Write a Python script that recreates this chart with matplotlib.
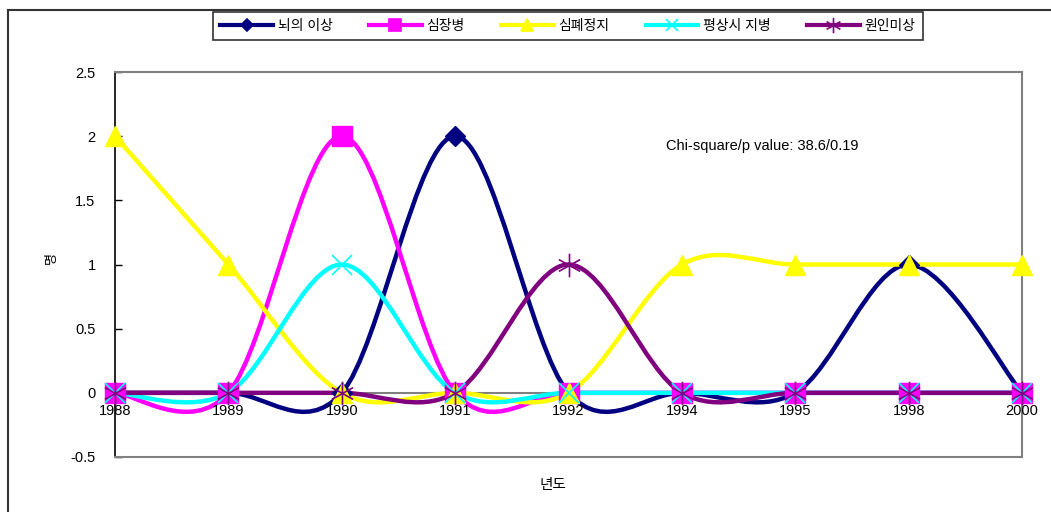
import matplotlib
matplotlib.use('Agg')
import matplotlib.pyplot as plt
import numpy as np
from matplotlib.path import Path
from matplotlib.patches import PathPatch
from matplotlib.lines import Line2D

plt.rcParams['font.family'] = ['Liberation Sans', 'Noto Sans CJK KR', 'DejaVu Sans']

years = ['1988', '1989', '1990', '1991', '1992', '1994', '1995', '1998', '2000']
names = ['뇌의 이상', '심장병', '심폐정지', '평상시 지병', '원인미상']
brain = [0, 0, 0, 2, 0, 0, 0, 1, 0]
heart = [0, 0, 2, 0, 0, 0, 0, 0, 0]
arrest = [2, 1, 0, 0, 0, 1, 1, 1, 1]
chronic = [0, 0, 1, 0, 0, 0, 0, 0, 0]
unknown = [0, 0, 0, 0, 1, 0, 0, 0, 0]
series = [brain, heart, arrest, chronic, unknown]

colors = ['#000080', '#FF00FF', '#FFFF00', '#00FFFF', '#800080']
star = Path([(0, -1), (0, 1), (-0.9, -0.5), (0.9, 0.5), (-0.9, 0.5), (0.9, -0.5)],
            [Path.MOVETO, Path.LINETO] * 3)
markers = ['D', 's', '^', 'x', star]
msizes = [10, 14, 14, 14, 17]


def smooth_path(x, y, k=1.0 / 6):
    # cubic bezier through every point, tangents from neighbouring points
    pts = np.column_stack([x, y]).astype(float)
    n = len(pts)
    verts = [pts[0]]
    codes = [Path.MOVETO]
    for i in range(n - 1):
        p0 = pts[max(i - 1, 0)]
        p1 = pts[i]
        p2 = pts[i + 1]
        p3 = pts[min(i + 2, n - 1)]
        verts += [p1 + (p2 - p0) * k, p2 - (p3 - p1) * k, p2]
        codes += [Path.CURVE4] * 3
    return Path(verts, codes)


fig = plt.figure(figsize=(10.51, 5.12), dpi=100)
ax = fig.add_axes([115 / 1051, 55 / 512, 907 / 1051, 385 / 512])

x = np.arange(len(years))
ax.axhline(0, color='#808080', lw=1.5, zorder=1)

for vals, c, m, ms in zip(series, colors, markers, msizes):
    ax.add_patch(PathPatch(smooth_path(x, vals), fc='none', ec=c, lw=3.2,
                           clip_on=False, zorder=2))
    if m == 'x' or m is star:
        ax.plot(x, vals, ls='none', marker=m, ms=ms, mec=c, mew=1.2,
                clip_on=False, zorder=3)
    else:
        ax.plot(x, vals, ls='none', marker=m, ms=ms, mfc=c, mec=c,
                clip_on=False, zorder=3)

ax.set_xlim(0, 8)
ax.set_ylim(-0.5, 2.5)
ax.set_xticks([])
yt = [-0.5, 0, 0.5, 1, 1.5, 2, 2.5]
ax.set_yticks(yt)
ax.set_yticklabels(['-0.5', '0', '0.5', '1', '1.5', '2', '2.5'], fontsize=10.5)
ax.tick_params(axis='y', direction='in', length=5, width=1, pad=14)

for i, lab in enumerate(years):
    ax.text(i, -0.085, lab, ha='center', va='top', fontsize=10.5)

for s in ['top', 'right', 'bottom']:
    ax.spines[s].set_color('#808080')
    ax.spines[s].set_linewidth(1.5)
ax.spines['left'].set_color('black')
ax.spines['left'].set_linewidth(1.2)

ax.text(5.705, 1.925, 'Chi-square/p value: 38.6/0.19', ha='center', va='center',
        fontsize=10.5)

fig.text(52 / 1051, 1 - 258 / 512, '명', rotation=90, ha='center', va='center',
         fontsize=9.5)
fig.text(553 / 1051, 1 - 485 / 512, '년도', ha='center', va='center', fontsize=10.5)

handles = [Line2D([], [], color=c, lw=3, marker=m, ms=ms * 0.65, mfc=c, mec=c,
                  mew=1.2) for c, m, ms in zip(colors, markers, msizes)]
leg = fig.legend(handles, names, loc='center', ncol=5,
                 bbox_to_anchor=(568 / 1051, 1 - 26 / 512), frameon=True,
                 fancybox=False, handlelength=3.8, handletextpad=0.35,
                 columnspacing=2.6, fontsize=10, borderpad=0.5)
leg.get_frame().set_edgecolor('black')
leg.get_frame().set_linewidth(1.2)

# outer chart frame
fig.add_artist(Line2D([8 / 1051, 8 / 1051], [0, 1 - 10 / 512], color='#333333',
                      lw=1.5, transform=fig.transFigure))
fig.add_artist(Line2D([8 / 1051, 1], [1 - 10 / 512, 1 - 10 / 512], color='#333333',
                      lw=1.5, transform=fig.transFigure))

fig.savefig('out.png', dpi=100)
